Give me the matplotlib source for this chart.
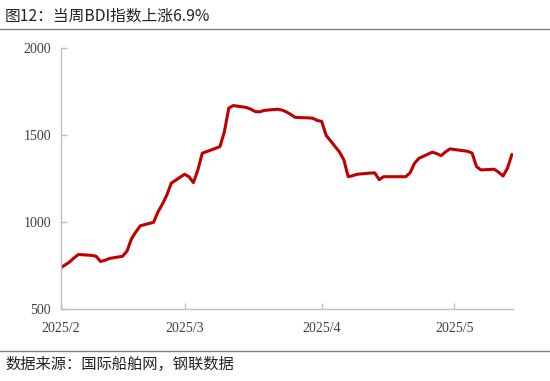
import matplotlib
matplotlib.use("Agg")
import matplotlib.pyplot as plt
from matplotlib.lines import Line2D
import pandas as pd

title = "图12：当周BDI指数上涨6.9%"
source = "数据来源：国际船舶网，钢联数据"

dates = [
    "2025-02-03", "2025-02-04", "2025-02-05", "2025-02-06", "2025-02-07",
    "2025-02-10", "2025-02-11", "2025-02-12", "2025-02-13", "2025-02-14",
    "2025-02-17", "2025-02-18", "2025-02-19", "2025-02-20", "2025-02-21",
    "2025-02-24", "2025-02-25", "2025-02-26", "2025-02-27", "2025-02-28",
    "2025-03-03", "2025-03-04", "2025-03-05", "2025-03-06", "2025-03-07",
    "2025-03-10", "2025-03-11", "2025-03-12", "2025-03-13", "2025-03-14",
    "2025-03-17", "2025-03-18", "2025-03-19", "2025-03-20", "2025-03-21",
    "2025-03-24", "2025-03-25", "2025-03-26", "2025-03-27", "2025-03-28",
    "2025-03-31", "2025-04-01", "2025-04-02", "2025-04-03", "2025-04-04",
    "2025-04-07", "2025-04-08", "2025-04-09", "2025-04-10", "2025-04-11",
    "2025-04-14", "2025-04-15", "2025-04-16", "2025-04-17",
    "2025-04-22", "2025-04-23", "2025-04-24", "2025-04-25",
    "2025-04-28", "2025-04-29", "2025-04-30", "2025-05-01", "2025-05-02",
    "2025-05-06", "2025-05-07", "2025-05-08", "2025-05-09",
    "2025-05-12", "2025-05-13", "2025-05-14", "2025-05-15", "2025-05-16",
]
bdi = [
    739, 755, 772, 795, 815,
    810, 805, 775, 782, 792,
    805, 835, 905, 945, 980,
    1000, 1060, 1105, 1157, 1225,
    1276, 1262, 1228, 1300, 1397,
    1425, 1435, 1520, 1656, 1671,
    1660, 1650, 1636, 1635, 1643,
    1650, 1645, 1635, 1620, 1603,
    1600, 1598, 1585, 1580, 1500,
    1405, 1360, 1262, 1268, 1276,
    1283, 1284, 1245, 1262,
    1262, 1285, 1340, 1368,
    1403, 1395, 1383, 1405, 1422,
    1408, 1398, 1320, 1301,
    1305, 1288, 1266, 1311, 1390,
]
tick_dates = ["2025-02-03", "2025-03-03", "2025-04-03", "2025-05-03"]
tick_labels = ["2025/2", "2025/3", "2025/4", "2025/5"]
y_ticks = [500, 1000, 1500, 2000]

W, H = 550, 381
fig = plt.figure(figsize=(W / 100, H / 100), dpi=100)
cjk = ["Noto Sans CJK SC", "DejaVu Sans"]

ax = fig.add_axes([60.7 / W, 1 - 309.3 / H, (513 - 60.7) / W, (309.3 - 48.3) / H])
x = pd.to_datetime(dates)
ax.plot(x, bdi, color="#C00000", lw=2.2, solid_joinstyle="round", solid_capstyle="round")

ax.set_ylim(500, 2000)
ax.set_yticks(y_ticks)
ax.set_xlim(pd.Timestamp("2025-02-03"), pd.Timestamp("2025-05-16 06:00"))
ax.set_xticks(pd.to_datetime(tick_dates))
ax.set_xticklabels(tick_labels)

for s in ["top", "right"]:
    ax.spines[s].set_visible(False)
for s in ["left", "bottom"]:
    ax.spines[s].set_color("#BFBFBF")
    ax.spines[s].set_linewidth(1.0)
ax.tick_params(axis="both", direction="in", length=4, color="#BFBFBF", width=1.0,
               labelsize=10, labelcolor="#404040")
ax.tick_params(axis="y", pad=7)
ax.tick_params(axis="x", pad=9)
for lab in ax.get_xticklabels() + ax.get_yticklabels():
    lab.set_fontfamily("Liberation Serif")

fig.text(5 / W, 1 - 16 / H, title, family=cjk, fontsize=11.3, fontweight="medium",
         color="#222222", va="center", ha="left")
fig.add_artist(Line2D([0, 1], [1 - 29 / H, 1 - 29 / H], color="#808080", lw=1.0,
                      transform=fig.transFigure))
fig.add_artist(Line2D([0, 1], [1 - 351 / H, 1 - 351 / H], color="#808080", lw=1.0,
                      transform=fig.transFigure))
fig.text(5 / W, 1 - 364 / H, source, family=cjk, fontsize=11, color="#222222",
         va="center", ha="left")

fig.savefig("out.png", dpi=100, facecolor="white")
